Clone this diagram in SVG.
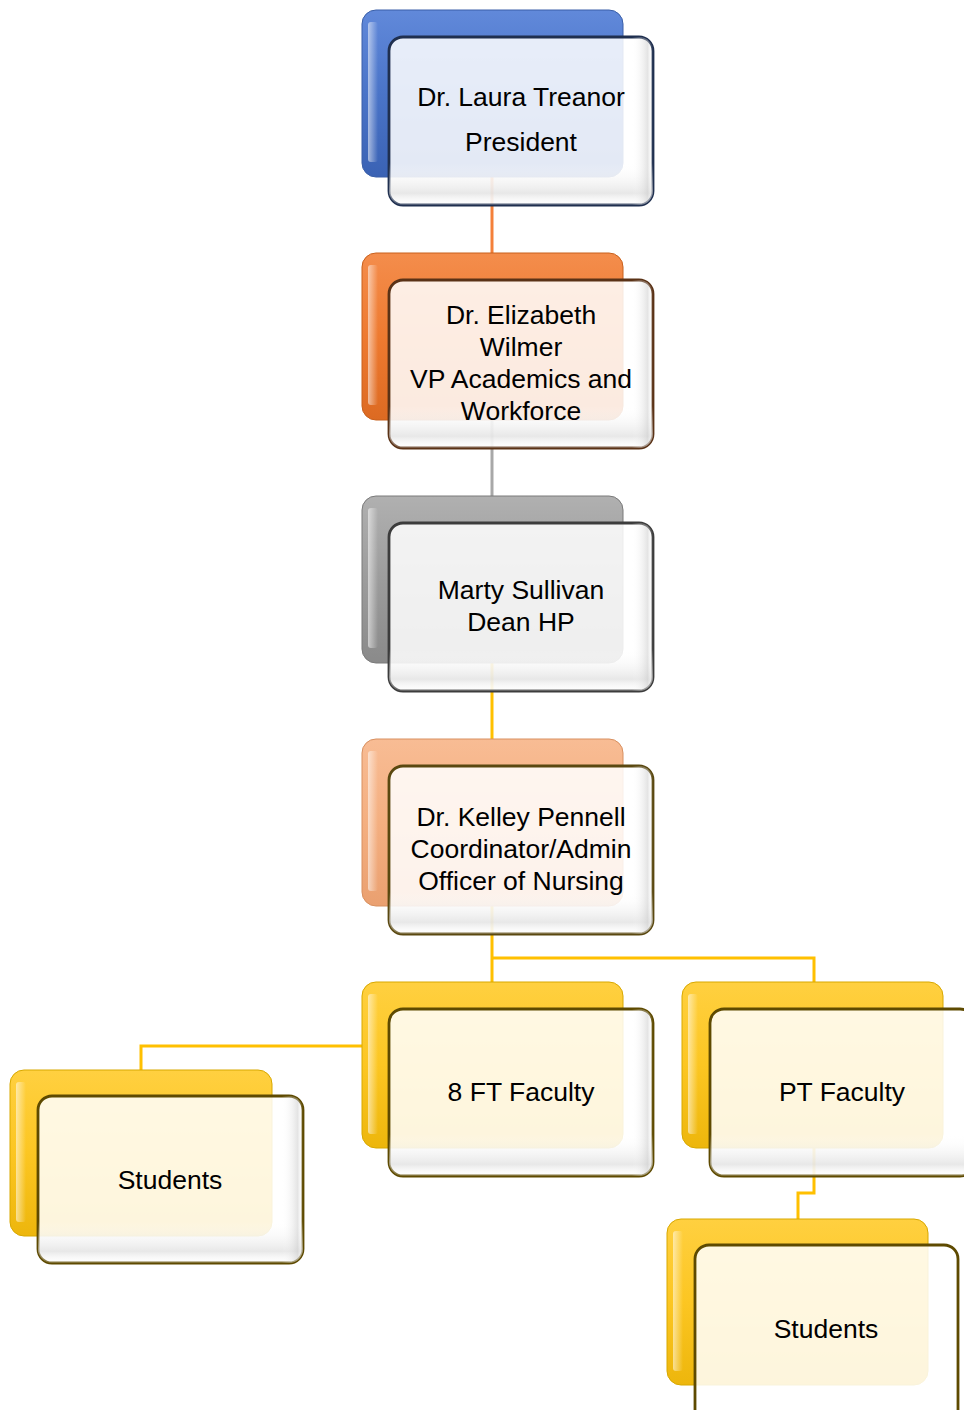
<svg xmlns="http://www.w3.org/2000/svg" width="964" height="1410" viewBox="0 0 964 1410">
<defs>
<linearGradient id="gBlue" x1="0" y1="0" x2="0" y2="1"><stop offset="0" stop-color="#6189DA"/><stop offset="0.5" stop-color="#4A74C8"/><stop offset="1" stop-color="#3A62B4"/></linearGradient>
<linearGradient id="gOrange" x1="0" y1="0" x2="0" y2="1"><stop offset="0" stop-color="#F48D4C"/><stop offset="0.5" stop-color="#EE7A30"/><stop offset="1" stop-color="#DC6A22"/></linearGradient>
<linearGradient id="gGray" x1="0" y1="0" x2="0" y2="1"><stop offset="0" stop-color="#B0B0B0"/><stop offset="0.5" stop-color="#9C9C9C"/><stop offset="1" stop-color="#8A8A8A"/></linearGradient>
<linearGradient id="gPeach" x1="0" y1="0" x2="0" y2="1"><stop offset="0" stop-color="#F8BC94"/><stop offset="0.5" stop-color="#F4AF80"/><stop offset="1" stop-color="#EAA070"/></linearGradient>
<linearGradient id="gGold" x1="0" y1="0" x2="0" y2="1"><stop offset="0" stop-color="#FFD040"/><stop offset="0.5" stop-color="#FCC622"/><stop offset="1" stop-color="#EDB60C"/></linearGradient>
<linearGradient id="gHi" x1="0" y1="0" x2="1" y2="0"><stop offset="0" stop-color="#FFFFFF" stop-opacity="0.55"/><stop offset="1" stop-color="#FFFFFF" stop-opacity="0"/></linearGradient>
<linearGradient id="gShade" x1="0" y1="0" x2="0" y2="1"><stop offset="0" stop-color="#FFFFFF" stop-opacity="0"/><stop offset="0.75" stop-color="#FFFFFF" stop-opacity="0"/><stop offset="0.93" stop-color="#D8D8D8" stop-opacity="0.6"/><stop offset="1" stop-color="#FFFFFF" stop-opacity="0.2"/></linearGradient>
<linearGradient id="gSide" x1="0" y1="0" x2="1" y2="0"><stop offset="0" stop-color="#FFFFFF" stop-opacity="0"/><stop offset="0.92" stop-color="#FFFFFF" stop-opacity="0"/><stop offset="0.98" stop-color="#C8C8C8" stop-opacity="0.5"/><stop offset="1" stop-color="#FFFFFF" stop-opacity="0"/></linearGradient>
</defs>
<style>
.front{fill:#FFFFFF;fill-opacity:0.86;stroke-width:2.8}
.shade{fill:url(#gShade);stroke:none}
.side{fill:url(#gSide);stroke:none}
.hi{fill:url(#gHi);stroke:none}
.t{font-family:"Liberation Sans",Arial,sans-serif;font-size:26.5px;fill:#000000;text-anchor:middle}
.c{fill:none;stroke-width:3}
</style>
<g id="connectors">
<line class="c" x1="492" y1="177" x2="492" y2="253" stroke="#F4803A"/>
<line class="c" x1="492" y1="420" x2="492" y2="496" stroke="#A8A8A8"/>
<line class="c" x1="492" y1="663" x2="492" y2="739" stroke="#FFC000"/>
<path class="c" d="M492 906 V982 M492 958 H814 V982" stroke="#FFC000"/>
<path class="c" d="M362 1046 H141 V1070" stroke="#FFC000"/>
<path class="c" d="M814 1148 V1193 H798 V1219" stroke="#FFC000"/>
</g>
<g id="n1">
<rect x="362" y="10" width="261" height="167" rx="14" fill="url(#gBlue)" stroke="#3A5FA8" stroke-width="1"/>
<rect x="368" y="22" width="10" height="140" rx="3" class="hi"/>
<rect x="389" y="37" width="264" height="168" rx="14" class="front" stroke="#1F2F4F"/>
<rect x="389" y="37" width="264" height="168" rx="14" class="shade"/>
<rect x="389" y="37" width="264" height="168" rx="14" class="side"/>
<text class="t" x="521" y="106">Dr. Laura Treanor</text>
<text class="t" x="521" y="151">President</text>
</g>
<g id="n2">
<rect x="362" y="253" width="261" height="167" rx="14" fill="url(#gOrange)" stroke="#C8601C" stroke-width="1"/>
<rect x="368" y="265" width="10" height="140" rx="3" class="hi"/>
<rect x="389" y="280" width="264" height="168" rx="14" class="front" stroke="#5A3216"/>
<rect x="389" y="280" width="264" height="168" rx="14" class="shade"/>
<rect x="389" y="280" width="264" height="168" rx="14" class="side"/>
<text class="t" x="521" y="324">Dr. Elizabeth</text>
<text class="t" x="521" y="356">Wilmer</text>
<text class="t" x="521" y="388">VP Academics and</text>
<text class="t" x="521" y="420">Workforce</text>
</g>
<g id="n3">
<rect x="362" y="496" width="261" height="167" rx="14" fill="url(#gGray)" stroke="#7A7A7A" stroke-width="1"/>
<rect x="368" y="508" width="10" height="140" rx="3" class="hi"/>
<rect x="389" y="523" width="264" height="168" rx="14" class="front" stroke="#3C3C3C"/>
<rect x="389" y="523" width="264" height="168" rx="14" class="shade"/>
<rect x="389" y="523" width="264" height="168" rx="14" class="side"/>
<text class="t" x="521" y="599">Marty Sullivan</text>
<text class="t" x="521" y="631">Dean HP</text>
</g>
<g id="n4">
<rect x="362" y="739" width="261" height="167" rx="14" fill="url(#gPeach)" stroke="#D89060" stroke-width="1"/>
<rect x="368" y="751" width="10" height="140" rx="3" class="hi"/>
<rect x="389" y="766" width="264" height="168" rx="14" class="front" stroke="#5A4810"/>
<rect x="389" y="766" width="264" height="168" rx="14" class="shade"/>
<rect x="389" y="766" width="264" height="168" rx="14" class="side"/>
<text class="t" x="521" y="826">Dr. Kelley Pennell</text>
<text class="t" x="521" y="858">Coordinator/Admin</text>
<text class="t" x="521" y="890">Officer of Nursing</text>
</g>
<g id="n5">
<rect x="362" y="982" width="261" height="166" rx="14" fill="url(#gGold)" stroke="#D8A800" stroke-width="1"/>
<rect x="368" y="994" width="10" height="140" rx="3" class="hi"/>
<rect x="389" y="1009" width="264" height="167" rx="14" class="front" stroke="#5E4A00"/>
<rect x="389" y="1009" width="264" height="167" rx="14" class="shade"/>
<rect x="389" y="1009" width="264" height="167" rx="14" class="side"/>
<text class="t" x="521" y="1101">8 FT Faculty</text>
</g>
<g id="n6">
<rect x="682" y="982" width="261" height="166" rx="14" fill="url(#gGold)" stroke="#D8A800" stroke-width="1"/>
<rect x="688" y="994" width="10" height="140" rx="3" class="hi"/>
<rect x="710" y="1009" width="264" height="167" rx="14" class="front" stroke="#5E4A00"/>
<rect x="710" y="1009" width="264" height="167" rx="14" class="shade"/>
<text class="t" x="842" y="1101">PT Faculty</text>
</g>
<g id="n7">
<rect x="10" y="1070" width="262" height="166" rx="14" fill="url(#gGold)" stroke="#D8A800" stroke-width="1"/>
<rect x="16" y="1082" width="10" height="140" rx="3" class="hi"/>
<rect x="38" y="1096" width="265" height="167" rx="14" class="front" stroke="#5E4A00"/>
<rect x="38" y="1096" width="265" height="167" rx="14" class="shade"/>
<rect x="38" y="1096" width="265" height="167" rx="14" class="side"/>
<text class="t" x="170" y="1189">Students</text>
</g>
<g id="n8">
<rect x="667" y="1219" width="261" height="166" rx="14" fill="url(#gGold)" stroke="#D8A800" stroke-width="1"/>
<rect x="673" y="1231" width="10" height="140" rx="3" class="hi"/>
<rect x="695" y="1245" width="263" height="180" rx="14" class="front" stroke="#5E4A00"/>
<text class="t" x="826" y="1338">Students</text>
</g>
</svg>
